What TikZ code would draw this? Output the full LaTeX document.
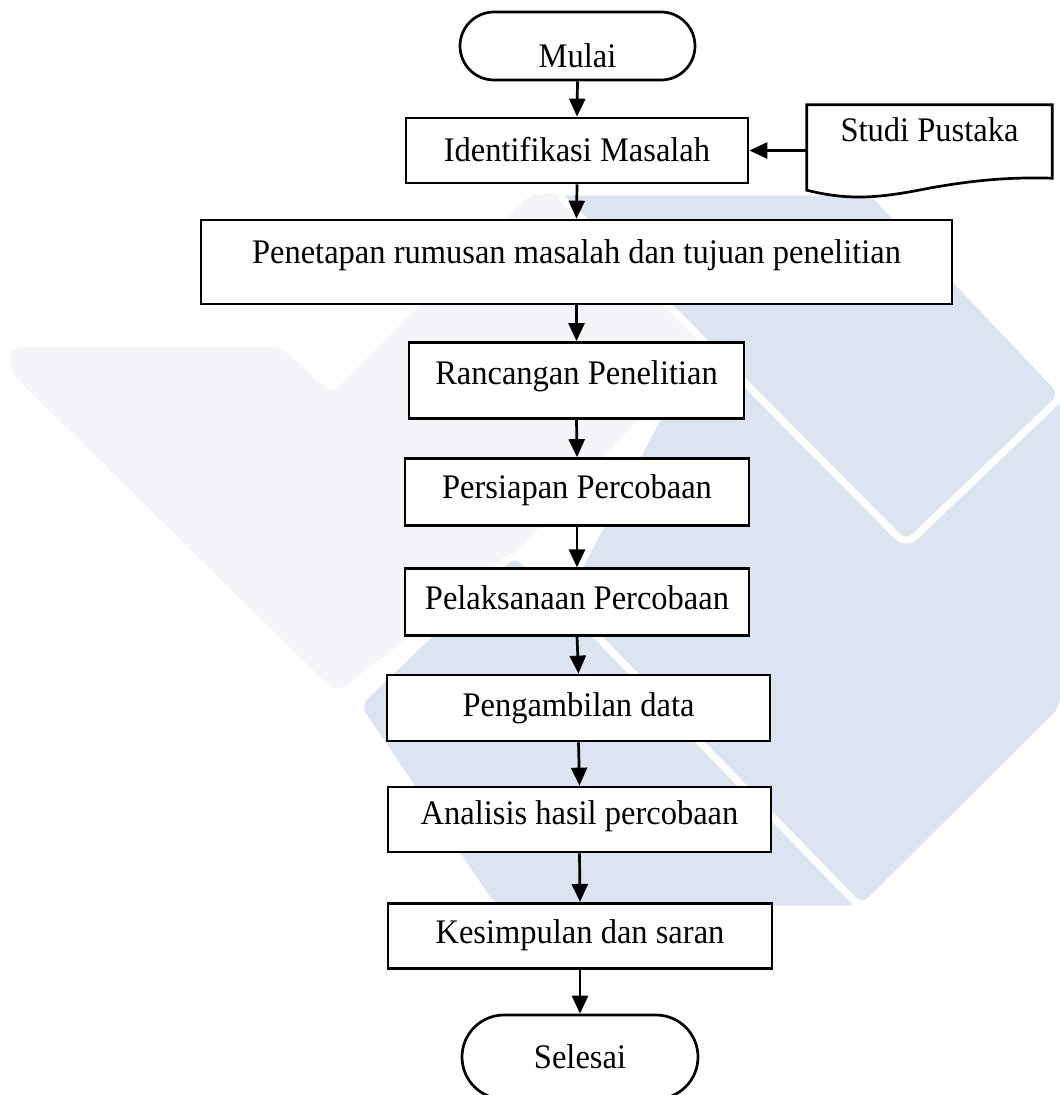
\documentclass[tikz,border=0pt]{standalone}
\usepackage{fontspec}
\setmainfont{Liberation Serif}
\usetikzlibrary{arrows.meta,shapes.misc}
\definecolor{wmblue}{RGB}{220,227,241}
\definecolor{wmgray}{RGB}{244,245,249}
\newcommand{\tx}[1]{\scalebox{1}[1.06]{#1}}
\begin{document}
\begin{tikzpicture}[x=1pt,y=-1pt,
  txt/.style={inner sep=0pt, font=\fontsize{32.5}{39}\selectfont, text height=24pt, text depth=7pt},
  box/.style={txt, draw, line width=2.7pt, fill=white, rectangle},
  term/.style={txt, draw, line width=2.7pt, fill=white, rounded rectangle},
  arr/.style={line width=2.7pt, -{Triangle[length=18pt,width=16pt]}},
  wm/.style={draw=white, line width=7pt, rounded corners=12pt, fill=wmblue}
]
\useasboundingbox[fill=white] (0,0) rectangle (1060,1095);

% watermark
\fill[wmgray, rounded corners=12pt] (10,347) -- (281,347) -- (332,394) -- (530,194) -- (600,194) -- (720,330) -- (510,559) -- (336,693) -- (10,372) -- cycle;
\filldraw[wm] (700,337) -- (906,545) -- (1064,394) -- (1064,708) -- (862,909) -- (562,600) -- cycle;
\filldraw[wm] (356,705) -- (515,552) -- (862,909) -- (494,909) -- cycle;
\filldraw[wm] (556,192) -- (872,192) -- (1064,394) -- (906,545) -- cycle;

% nodes
\node[term, minimum width=235pt, minimum height=68pt, text height=42.4pt, text depth=0pt] (mulai) at (577.5,46) {\tx{Mulai}};
\node[box, minimum width=342pt, minimum height=65pt, text depth=2.6pt] (ident) at (577,150.5) {\tx{Identifikasi Masalah}};
\node[txt, minimum width=245pt, minimum height=85pt, text depth=36.2pt] (studi) at (929.5,147.5) {\tx{Studi Pustaka}};
\draw[line width=2.7pt] (studi.south west) -- (studi.north west) -- (studi.north east) -- ([yshift=12pt]studi.south east)
  .. controls (1010,177) and (975,180) .. (930,188)
  .. controls (880,198) and (850,201) .. (studi.south west) -- cycle;
\node[box, minimum width=751pt, minimum height=84pt, text depth=20.6pt] (penetapan) at (576.5,262) {\tx{Penetapan rumusan masalah dan tujuan penelitian}};
\node[box, minimum width=335pt, minimum height=76pt, text depth=16.6pt] (rancangan) at (576.5,380.5) {\tx{Rancangan Penelitian}};
\node[box, minimum width=344pt, minimum height=67pt, text depth=10.2pt] (persiapan) at (577,492) {\tx{Persiapan Percobaan}};
\node[box, minimum width=344pt, minimum height=66.5pt, text depth=9.6pt] (pelaksanaan) at (577,602) {\tx{Pelaksanaan Percobaan}};
\node[box, minimum width=383pt, minimum height=66pt, text depth=7.2pt] (pengambilan) at (578.5,708) {\tx{Pengambilan data}};
\node[box, minimum width=383pt, minimum height=65pt, text depth=13.2pt] (analisis) at (579.5,819.5) {\tx{Analisis hasil percobaan}};
\node[box, minimum width=384pt, minimum height=65pt, text depth=7.8pt] (kesimpulan) at (580,935.8) {\tx{Kesimpulan dan saran}};
\node[term, minimum width=236pt, minimum height=84pt, text depth=1.2pt] (selesai) at (580,1057) {\tx{Selesai}};

% connectors
\draw[arr] (mulai.south) -- (ident.north);
\draw[arr] (studi.west |- ident.east) -- (ident.east);
\draw[arr] (ident.south) -- (penetapan.north);
\draw[arr] (penetapan.south) -- (rancangan.north);
\draw[arr] (rancangan.south) -- (persiapan.north);
\draw[arr] (persiapan.south) -- (pelaksanaan.north);
\draw[arr] (pelaksanaan.south) -- (pengambilan.north);
\draw[arr] (pengambilan.south) -- (analisis.north);
\draw[arr] (analisis.south) -- (kesimpulan.north);
\draw[arr] (kesimpulan.south) -- (selesai.north);
\end{tikzpicture}
\end{document}
